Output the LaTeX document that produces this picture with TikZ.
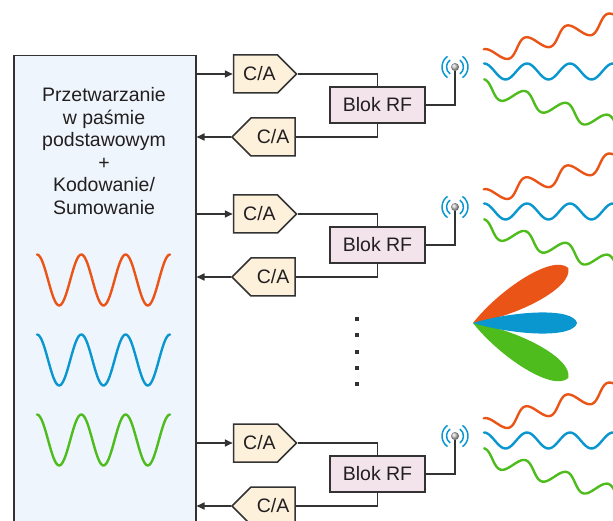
\documentclass[tikz,border=0pt]{standalone}
\usepackage{fontspec}
\setmainfont{Liberation Sans}
\usetikzlibrary{arrows.meta, shapes.symbols, positioning}
\definecolor{LineGray}{RGB}{51,51,51}
\definecolor{InkGray}{RGB}{35,31,32}
\definecolor{BaseBlue}{RGB}{238,245,252}
\definecolor{DacCream}{RGB}{253,241,220}
\definecolor{RfPink}{RGB}{243,228,235}
\definecolor{BeamOrange}{RGB}{234,84,22}
\definecolor{BeamBlue}{RGB}{10,150,207}
\definecolor{BeamGreen}{RGB}{78,188,28}

\tikzset{
  txt/.style={font=\fontsize{19.5}{22.6}\selectfont, text=InkGray},
  dacbox/.style={txt, shape=signal, draw=LineGray, fill=DacCream, line width=1.5pt,
                 minimum width=63pt, minimum height=38pt, inner sep=0pt, signal pointer angle=90},
  rfbox/.style={txt, draw=LineGray, fill=RfPink, line width=1.5pt,
                minimum width=95pt, minimum height=36pt, inner sep=0pt},
  link/.style={LineGray, line width=1.6pt},
  tip/.style={-{Triangle[length=8pt, width=7pt]}},
  wave/.style={line width=2.4pt, line cap=round},
  lobe/.style={shift={(473,323)}},
}

\begin{document}
\begin{tikzpicture}[x=1pt, y=-1pt]
      \path[use as bounding box, clip] (0,0) rectangle (613,521);

      % baseband block
      \node[draw=LineGray, fill=BaseBlue, line width=1.5pt, inner sep=0pt,
            minimum width=182pt, minimum height=500pt, anchor=north west]
            (bb) at (13,55) {};
      \node[txt, align=center] (lbl) at (104,151)
            {Przetwarzanie\\w paśmie\\podstawowym\\+\\Kodowanie/\\Sumowanie};

      % the three baseband signals (period 44.33)
      \draw[wave, BeamOrange] plot[domain=0:133, samples=90, smooth] ({37+\x}, {280-25.5*cos(\x*8.121)});
      \draw[wave, BeamBlue]   plot[domain=0:133, samples=90, smooth] ({37+\x}, {360-25.5*cos(\x*8.121)});
      \draw[wave, BeamGreen]  plot[domain=0:133, samples=90, smooth] ({37+\x}, {440-25.5*cos(\x*8.121)});

      % converter chains with antennas
      \foreach \g/\dy in {1/0, 2/140, 3/369} {
        \node[dacbox, signal to=east] (tx\g) at (255.5,{74+\dy}) {\hspace{8pt}C/A};
        \node[dacbox, signal to=west] (rx\g) at (273,{137+\dy}) {C/A\hspace{6pt}};
        \node[rfbox] (rf\g) at (377.5,{105+\dy}) {Blok RF};
        \node[circle, inner sep=0pt, minimum size=8pt, shading=ball, ball color=gray!45]
              (ant\g) at (455,{67+\dy}) {};

        \draw[link, tip] (bb.east |- tx\g.west) -- (tx\g.west);
        \draw[link] (tx\g.east) -| (rf\g.north);
        \draw[link] (rf\g.south) |- (rx\g.east);
        \draw[link, tip] (rx\g.west) -- (bb.east |- rx\g.west);
        \draw[link] (rf\g.east) -| (ant\g.south);

        % radiating arcs
        \foreach \r in {8.5,13} {
          \draw[BeamBlue, line width=1.5pt] ([shift={(125:\r)}]ant\g.center) arc[start angle=125, end angle=235, radius=\r];
          \draw[BeamBlue, line width=1.5pt] ([shift={(-55:\r)}]ant\g.center) arc[start angle=-55, end angle=55, radius=\r];
        }

        % transmitted waves (period 43)
        \draw[wave, BeamOrange, shift={(486,{57+\dy})}, rotate=16]
              plot[domain=0:160, samples=100, smooth] (\x, {-8*cos(\x*8.372)});
        \draw[wave, BeamBlue, shift={(484,{71.5+\dy})}]
              plot[domain=0:160, samples=100, smooth] (\x, {-8*cos(\x*8.372)});
        \draw[wave, BeamGreen, shift={(482,{87+\dy})}, rotate=-16]
              plot[domain=0:160, samples=100, smooth] (\x, {-8*cos(\x*8.372)});
      }

      % more chains in between
      \foreach \y in {319,335,352,368,384}
        \fill[LineGray] (355,{\y-2}) rectangle (359,{\y+2});

      % beam pattern
      \fill[BeamOrange, lobe, rotate=30] (0,0) .. controls (40,16) and (104,20) .. (110,0)
            .. controls (104,-20) and (40,-16) .. (0,0);
      \fill[BeamGreen, lobe, rotate=-30] (0,0) .. controls (40,16) and (104,20) .. (110,0)
            .. controls (104,-20) and (40,-16) .. (0,0);
      \fill[BeamBlue, lobe] (0,0) .. controls (40,12) and (100,16) .. (104,0)
            .. controls (100,-16) and (40,-12) .. (0,0);

\end{tikzpicture}
\end{document}
